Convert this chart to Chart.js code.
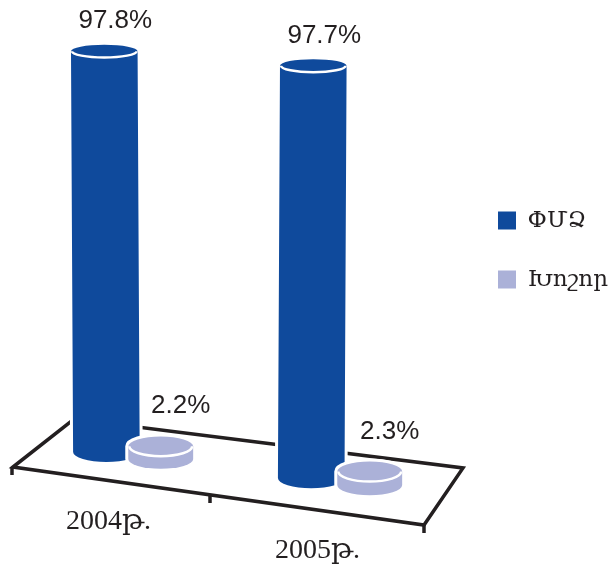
<!DOCTYPE html>
<html>
<head>
<meta charset="utf-8">
<title>chart</title>
<script src="https://cdn.jsdelivr.net/npm/chart.js@4/dist/chart.umd.js"></script>
<style>
  html, body { margin: 0; padding: 0; background: #fff; }
  canvas { display: block; }
</style>
</head>
<body>
<canvas id="chart" width="610" height="564"></canvas>
<script>
const YEARS = ['2004թ.', '2005թ.'];
const SME_SHARE = [97.8, 97.7];
const LARGE_SHARE = [2.2, 2.3];
const SERIES_NAMES = ['ՓՄՁ', 'Խոշոր'];

const BLUE = '#0f4a9c';
const LILAC = '#abb1d8';
const INK = '#231f20';
const SANS = '"Liberation Sans", Arial, sans-serif';
const SERIF = '"Liberation Serif", "DejaVu Serif", serif';

// fake 3D floor, the original is a tilted plate
const FLOOR = [[13, 467], [74, 419], [463, 468], [424, 525]];
const FLOOR_TICKS = [[12, 467, 475], [210, 496, 503], [424, 525, 533]];

// where the foot of a bar lands on the tilted floor
const baseY = x => 452 + 0.125 * (x - 105);
const depth = x => 1 + 0.03 * (x - 105) / 209;
const squash = y => 0.19 + 0.00028 * (y - 50);

function cylinder(ctx, el, color, lean) {
  const rx = el.width / 2;
  const yBot = baseY(el.x);
  const yTop = yBot - (el.base - el.y) * depth(el.x);
  const xTop = el.x;
  const xBot = el.x + (210 - el.x) * lean;
  const ryTop = rx * squash(yTop);
  const ryBot = rx * squash(yBot);

  const outline = () => {
    ctx.beginPath();
    ctx.moveTo(xTop - rx, yTop);
    ctx.ellipse(xTop, yTop, rx, ryTop, 0, Math.PI, 2 * Math.PI);
    ctx.lineTo(xBot + rx, yBot);
    ctx.ellipse(xBot, yBot, rx, ryBot, 0, 0, Math.PI);
    ctx.closePath();
  };

  ctx.save();
  // white halo cuts the floor lines and the bar behind
  outline();
  ctx.strokeStyle = '#fff';
  ctx.lineWidth = 6;
  ctx.stroke();
  outline();
  ctx.fillStyle = color;
  ctx.fill();
  // rim of the top face
  ctx.beginPath();
  ctx.ellipse(xTop, yTop, rx - 1, ryTop, 0, 0, Math.PI);
  ctx.strokeStyle = '#fff';
  ctx.lineWidth = 2.5;
  ctx.stroke();
  ctx.restore();
}

const plate3d = {
  id: 'plate3d',
  afterLayout(chart) {
    // legend sits in its own column, not against the plot
    const lg = chart.legend;
    const w = lg.width;
    lg.left = 618 - w;
    lg.right = 618;
  },
  beforeDatasetsDraw(chart) {
    const { ctx } = chart;
    ctx.save();
    ctx.strokeStyle = INK;
    ctx.lineWidth = 3.5;
    ctx.lineJoin = 'miter';
    ctx.beginPath();
    FLOOR.forEach((p, i) => i ? ctx.lineTo(p[0], p[1]) : ctx.moveTo(p[0], p[1]));
    ctx.closePath();
    ctx.stroke();
    FLOOR_TICKS.forEach(t => {
      ctx.beginPath();
      ctx.moveTo(t[0], t[1]);
      ctx.lineTo(t[0], t[2]);
      ctx.stroke();
    });
    ctx.restore();

    // tall bars first, the flat discs stand in front of them
    chart.getDatasetMeta(0).data.forEach(el => cylinder(ctx, el, BLUE, 0.02));
    chart.getDatasetMeta(1).data.forEach(el => cylinder(ctx, el, LILAC, 0));
  },
  beforeDatasetDraw() {
    return false;
  },
  afterDatasetsDraw(chart) {
    const { ctx } = chart;
    ctx.save();
    ctx.fillStyle = INK;
    ctx.textAlign = 'center';
    ctx.textBaseline = 'alphabetic';

    // value labels
    ctx.font = '26px ' + SANS;
    chart.data.datasets.forEach((ds, d) => {
      chart.getDatasetMeta(d).data.forEach((el, i) => {
        const top = baseY(el.x) - (el.base - el.y) * depth(el.x);
        const dx = d === 0 ? 11 : 20;
        const dy = d === 0 ? 23 : 33;
        ctx.fillText(ds.data[i] + '%', el.x + dx, top - dy);
      });
    });

    // category labels follow the front edge of the plate
    ctx.font = '28px ' + SERIF;
    const xs = chart.scales.x;
    YEARS.forEach((label, i) => {
      const x = xs.getPixelForValue(i) - 24;
      ctx.fillText(label, x, 529 + 0.14 * (x - 109));
    });
    ctx.restore();
  }
};

new Chart(document.getElementById('chart'), {
  type: 'bar',
  data: {
    labels: YEARS,
    datasets: [
      {
        label: SERIES_NAMES[0],
        data: SME_SHARE,
        yAxisID: 'y',
        backgroundColor: BLUE,
        borderWidth: 0,
        barPercentage: 1.18,
        categoryPercentage: 0.54
      },
      {
        label: SERIES_NAMES[1],
        data: LARGE_SHARE,
        yAxisID: 'y2',
        backgroundColor: LILAC,
        borderWidth: 0,
        barPercentage: 1.15,
        categoryPercentage: 0.54
      }
    ]
  },
  options: {
    responsive: false,
    animation: false,
    layout: { padding: { left: 28, top: 0, right: 8, bottom: 64 } },
    plugins: {
      tooltip: { enabled: false },
      legend: {
        position: 'right',
        labels: {
          boxWidth: 18,
          boxHeight: 18,
          padding: 36,
          color: INK,
          font: { family: SERIF, size: 23 }
        },
        onClick: null
      }
    },
    scales: {
      x: { display: false },
      y: { display: false, min: 0, max: 122 },
      y2: { display: false, min: 0, max: 88 }
    }
  },
  plugins: [plate3d]
});
</script>
</body>
</html>
